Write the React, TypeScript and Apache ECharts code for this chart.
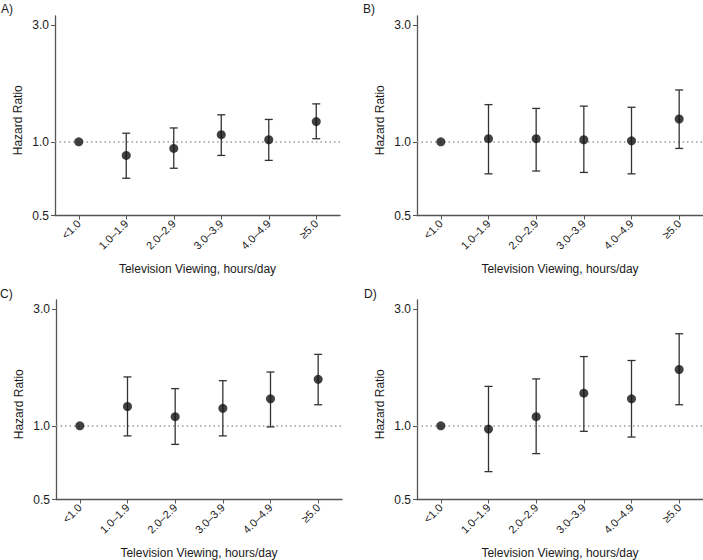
import React, { useEffect, useRef } from "react";
import * as echarts from "echarts";

const categories = ["<1.0", "1.0–1.9", "2.0–2.9", "3.0–3.9", "4.0–4.9", "≥5.0"];
const panelLabels = ["A)", "B)", "C)", "D)"];
const yTickValues = [0.5, 1.0, 3.0];
const yMin = 0.5;
const yMax = 3.27;
const referenceValue = 1.0;
const xAxisTitle = "Television Viewing, hours/day";
const yAxisTitle = "Hazard Ratio";

const hrA = [1.0, 0.88, 0.94, 1.07, 1.02, 1.21];
const lowA = [1.0, 0.71, 0.78, 0.88, 0.84, 1.03];
const highA = [1.0, 1.085, 1.14, 1.29, 1.235, 1.43];

const hrB = [1.0, 1.03, 1.03, 1.02, 1.01, 1.24];
const lowB = [1.0, 0.74, 0.76, 0.75, 0.74, 0.94];
const highB = [1.0, 1.42, 1.37, 1.4, 1.385, 1.63];

const hrC = [1.0, 1.2, 1.09, 1.18, 1.29, 1.55];
const lowC = [1.0, 0.91, 0.84, 0.91, 0.99, 1.22];
const highC = [1.0, 1.585, 1.42, 1.53, 1.66, 1.96];

const hrD = [1.0, 0.97, 1.09, 1.36, 1.29, 1.7];
const lowD = [1.0, 0.65, 0.77, 0.95, 0.9, 1.22];
const highD = [1.0, 1.45, 1.556, 1.92, 1.85, 2.38];

const panels = [
  { hr: hrA, low: lowA, high: highA },
  { hr: hrB, low: lowB, high: highB },
  { hr: hrC, low: lowC, high: highC },
  { hr: hrD, low: lowD, high: highD },
];

const grids = [
  { left: 55, top: 16, width: 285, height: 199.5 },
  { left: 417, top: 16, width: 286, height: 199.5 },
  { left: 56, top: 300, width: 286, height: 199.5 },
  { left: 417, top: 300, width: 286, height: 199.5 },
];

const labelPos = [
  { x: 1, y: 3 },
  { x: 363, y: 3 },
  { x: 0, y: 288 },
  { x: 364, y: 288 },
];

const FONT = "'Liberation Sans', Arial, Helvetica, sans-serif";
const TEXT = "#1a1a1a";
const AXIS = "#555";
const FS = 11;

export default function App() {
  const ref = useRef<HTMLDivElement>(null);
  useEffect(() => {
    if (!ref.current) return;
    const chart = echarts.init(ref.current, null, { renderer: "svg" });
    const ln = Math.log;
    const tickVals = yTickValues.map((v) => ln(v));

    const xAxes = grids.map((_, i) => ({
      type: "category",
      gridIndex: i,
      data: categories,
      boundaryGap: true,
      name: xAxisTitle,
      nameLocation: "middle",
      nameGap: 47,
      nameTextStyle: { fontSize: FS + 1, color: TEXT, fontFamily: FONT },
      axisLine: { show: true, onZero: false, lineStyle: { color: AXIS, width: 1.3 } },
      axisTick: { show: true, alignWithLabel: true, length: 4, lineStyle: { color: AXIS } },
      axisLabel: { rotate: 45, margin: 6, fontSize: FS, color: TEXT, fontFamily: FONT, interval: 0 },
      splitLine: { show: false },
    }));

    const yAxes = grids.map((_, i) => ({
      type: "value",
      gridIndex: i,
      min: ln(yMin),
      max: ln(yMax),
      name: yAxisTitle,
      nameLocation: "middle",
      nameGap: 31,
      nameTextStyle: { fontSize: FS + 1, color: TEXT, fontFamily: FONT, padding: [0, 9, 0, 0] },
      axisLine: { show: true, onZero: false, lineStyle: { color: AXIS, width: 1.3 } },
      axisTick: { show: true, length: 4, customValues: tickVals, lineStyle: { color: AXIS } },
      axisLabel: {
        customValues: tickVals,
        fontSize: FS + 1,
        color: TEXT,
        fontFamily: FONT,
        margin: 6,
        formatter: (v: number) => Math.exp(v).toFixed(1),
      },
      splitLine: { show: false },
    }));

    const series: any[] = [];
    panels.forEach((p, i) => {
      series.push({
        type: "custom",
        xAxisIndex: i,
        yAxisIndex: i,
        z: 2,
        encode: { x: 0, y: [1, 2] },
        data: categories.map((_, k) => [k, ln(p.low[k]), ln(p.high[k])]),
        renderItem: (params: any, api: any) => {
          const x = api.value(0);
          const lo = api.value(1);
          const hi = api.value(2);
          if (Math.abs(hi - lo) < 1e-9) return null;
          const a = api.coord([x, lo]);
          const b = api.coord([x, hi]);
          const w = 4;
          const style = { stroke: "#333", lineWidth: 1.3 };
          return {
            type: "group",
            children: [
              { type: "line", shape: { x1: a[0], y1: a[1], x2: b[0], y2: b[1] }, style },
              { type: "line", shape: { x1: a[0] - w, y1: a[1], x2: a[0] + w, y2: a[1] }, style },
              { type: "line", shape: { x1: b[0] - w, y1: b[1], x2: b[0] + w, y2: b[1] }, style },
            ],
          };
        },
      });
      series.push({
        type: "scatter",
        xAxisIndex: i,
        yAxisIndex: i,
        z: 3,
        symbol: "circle",
        symbolSize: 9,
        itemStyle: { color: "#111" },
        data: categories.map((_, k) => [k, ln(p.hr[k])]),
        markLine: {
          silent: true,
          symbol: "none",
          label: { show: false },
          lineStyle: { color: "#999", type: [1.5, 3], width: 1.5 },
          data: [{ yAxis: ln(referenceValue) }],
          z: 1,
        },
      });
    });

    const graphics = panelLabels.map((t, i) => ({
      type: "text",
      left: labelPos[i].x,
      top: labelPos[i].y,
      style: { text: t, fontSize: 12, fill: TEXT, fontFamily: FONT },
    }));

    chart.setOption({
      animation: false,
      backgroundColor: "#fff",
      textStyle: { fontFamily: FONT },
      grid: grids.map((g) => ({ ...g, containLabel: false })),
      xAxis: xAxes,
      yAxis: yAxes,
      series,
      graphic: graphics,
    });
    return () => chart.dispose();
  }, []);
  return (
    <div
      ref={ref}
      style={{ position: "absolute", left: 0, top: 0, width: 703, height: 560 }}
    />
  );
}
